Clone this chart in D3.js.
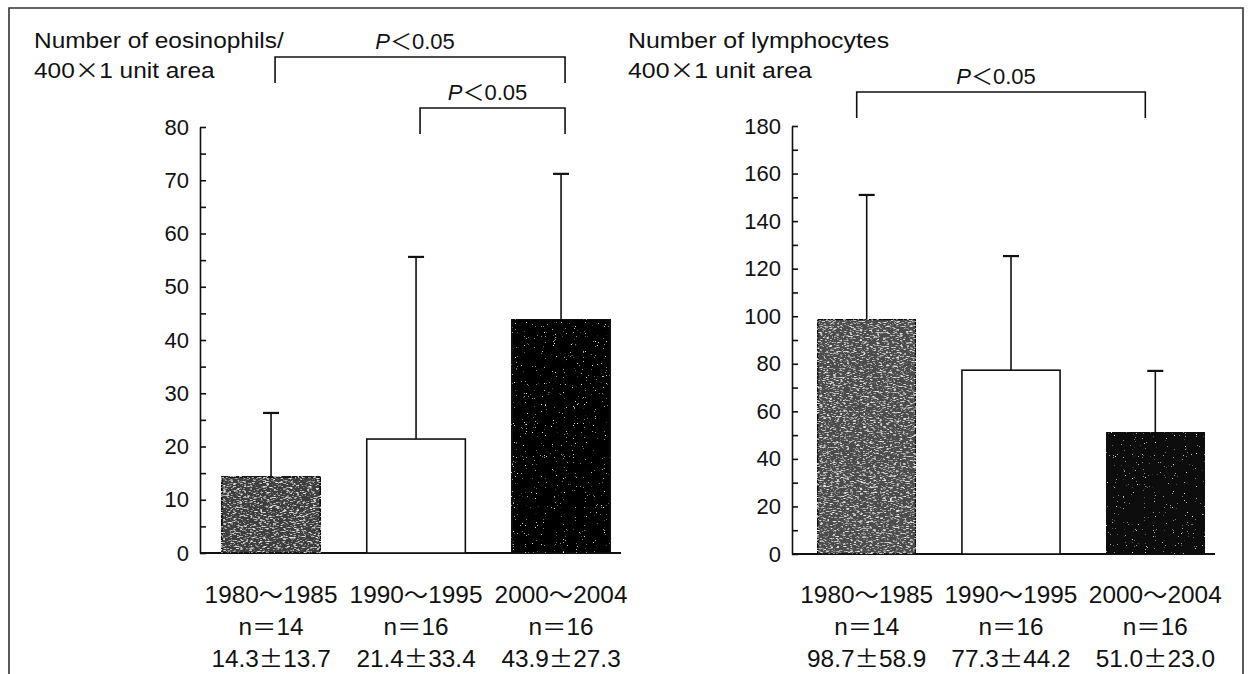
<!DOCTYPE html>
<html>
<head>
<meta charset="utf-8">
<script src="https://cdn.jsdelivr.net/npm/d3@7"></script>
<style>
  body { margin: 0; background: #fff; }
  svg { display: block; }
  text { font-family: "Liberation Sans", Arial, "Noto Sans CJK JP", sans-serif; fill: #111; }
</style>
</head>
<body>
<script>
// ---- data ----
const categories = ["1980〜1985", "1990〜1995", "2000〜2004"];
const nCounts = [14, 16, 16];

// eosinophils / 400x1 unit area
const eosMean = [14.3, 21.4, 43.9];
const eosSD = [13.7, 33.4, 27.3];
const eosWhiskerTop = [26.3, 55.6, 71.2];   // whisker ends as drawn
const eosTicks = [0, 10, 20, 30, 40, 50, 60, 70, 80];

// lymphocytes / 400x1 unit area
const lymMean = [98.7, 77.3, 51.0];
const lymSD = [58.9, 44.2, 23.0];
const lymWhiskerTop = [151, 125.3, 77];
const lymTicks = [0, 20, 40, 60, 80, 100, 120, 140, 160, 180];

// significance brackets (indices into categories)
const eosBrackets = [[0, 2], [1, 2]];
const lymBrackets = [[0, 2]];
const sigLabel = "0.05";

const width = 1248, height = 674;
const cjk = "'Noto Sans CJK JP', sans-serif";

const svg = d3.select("body").append("svg")
	.attr("width", width)
	.attr("height", height);

// ------- speckled fills (scanned halftone look) -------
const defs = svg.append("defs");
function speckFilter(id, freq, slope, offset, seed) {
	const f = defs.append("filter").attr("id", id)
		.attr("x", 0).attr("y", 0).attr("width", 1).attr("height", 1);
	f.append("feTurbulence").attr("type", "fractalNoise")
		.attr("baseFrequency", freq).attr("numOctaves", 2).attr("seed", seed).attr("result", "noise");
	f.append("feColorMatrix").attr("in", "noise").attr("type", "matrix")
		.attr("values", `0 0 0 0 0.8  0 0 0 0 0.8  0 0 0 0 0.8  ${slope} 0 0 0 ${offset}`)
		.attr("result", "specks");
	f.append("feComposite").attr("in", "specks").attr("in2", "SourceGraphic")
		.attr("operator", "in").attr("result", "clipped");
	const m = f.append("feMerge");
	m.append("feMergeNode").attr("in", "SourceGraphic");
	m.append("feMergeNode").attr("in", "clipped");
}
speckFilter("speckGray", "0.3 1.2", 4, -2.1, 4);
speckFilter("speckDark", "0.9", 10, -7.2, 7);

// outer frame of the scanned figure
svg.append("path")
	.attr("d", "M9,680 L9,8 L1243,8 L1243,680")
	.attr("fill", "none")
	.attr("stroke", "#333")
	.attr("stroke-width", 1.6);

// append text where × and ± come from the CJK font (full width glyphs)
function mixedText(sel, str) {
	str.split(/([×±])/).filter(s => s.length).forEach(s => {
		const t = sel.append("tspan").text(s);
		if (s === "×" || s === "±") t.style("font-family", cjk);
	});
	return sel;
}

// the scan is a bit wider than tall, stretch text horizontally
function stretch(sel, factor) {
	const w = sel.node().getComputedTextLength();
	sel.attr("textLength", w * factor).attr("lengthAdjust", "spacingAndGlyphs");
	return sel;
}

function drawPanel(cfg) {
	const g = svg.append("g");

	const x = d3.scaleBand()
		.domain(categories)
		.range([cfg.bandStart, cfg.bandStart + cfg.step * 2.98])
		.paddingInner(0.32)
		.paddingOuter(0.15);

	const y = d3.scaleLinear()
		.domain([0, d3.max(cfg.ticks)])
		.range([cfg.yBottom, cfg.yTop]);

	// title, two lines
	cfg.title.forEach((line, i) => {
		const t = mixedText(g.append("text")
			.attr("x", cfg.titleX)
			.attr("y", 48 + i * 30)
			.style("font-size", "22px"), line);
		stretch(t, cfg.titleStretch);
	});

	// tick labels
	const labelAxis = g.append("g")
		.attr("transform", `translate(${cfg.axisX},0)`)
		.call(d3.axisLeft(y).tickValues(cfg.ticks).tickSize(0).tickPadding(11));
	labelAxis.select(".domain").remove();
	labelAxis.selectAll("text")
		.attr("font-family", null)
		.style("font-size", "22px")
		.attr("fill", "#111");

	// inward tick marks incl. minor ones
	const minor = d3.range(0, d3.max(cfg.ticks) + 0.1, cfg.minorStep);
	const tickAxis = g.append("g")
		.attr("transform", `translate(${cfg.axisX},0)`)
		.call(d3.axisRight(y).tickValues(minor).tickSize(6).tickSizeOuter(0).tickFormat(""));
	tickAxis.selectAll("line, path").attr("stroke", "#111").attr("stroke-width", 1.6);

	// baseline
	g.append("line")
		.attr("x1", cfg.axisX).attr("x2", cfg.axisEnd)
		.attr("y1", y(0)).attr("y2", y(0))
		.attr("stroke", "#111").attr("stroke-width", 1.8);

	// whiskers (drawn first, bars cover the lower part)
	const cx = i => x(categories[i]) + x.bandwidth() / 2;
	const whisk = g.append("g").attr("stroke", "#111").attr("stroke-width", 1.6);
	cfg.top.forEach((v, i) => {
		whisk.append("line")
			.attr("x1", cx(i)).attr("x2", cx(i))
			.attr("y1", y(cfg.mean[i])).attr("y2", y(v));
		whisk.append("line")
			.attr("x1", cx(i) - 8).attr("x2", cx(i) + 8)
			.attr("y1", y(v)).attr("y2", y(v))
			.attr("stroke-width", 2.2);
	});

	// bars
	g.selectAll("rect.bar")
		.data(cfg.mean)
		.join("rect")
		.attr("class", "bar")
		.attr("x", (d, i) => x(categories[i]))
		.attr("y", d => y(d))
		.attr("width", x.bandwidth())
		.attr("height", d => y(0) - y(d))
		.attr("fill", (d, i) => cfg.fills[i])
		.attr("stroke", "#111")
		.attr("stroke-width", 1.6)
		.attr("filter", (d, i) => cfg.filters[i]);

	// category labels, n and mean±SD
	categories.forEach((c, i) => {
		const rows = [c, `n＝${nCounts[i]}`, `${cfg.mean[i].toFixed(1)}±${cfg.sd[i].toFixed(1)}`];
		rows.forEach((r, k) => {
			const t = mixedText(g.append("text")
				.attr("x", cx(i))
				.attr("y", 603 + k * 32)
				.attr("text-anchor", "middle")
				.style("font-size", "23px"), r);
			stretch(t, 1.06);
		});
	});

	// significance brackets
	cfg.brackets.forEach((b, k) => {
		const pos = cfg.bracketPos[k];
		const x1 = cx(b[0]) + cfg.bracketShift, x2 = cx(b[1]) + cfg.bracketShift;
		g.append("path")
			.attr("d", `M${x1},${pos.bottom} V${pos.top} H${x2} V${pos.bottom}`)
			.attr("fill", "none")
			.attr("stroke", "#111")
			.attr("stroke-width", 1.6);
		const t = g.append("text")
			.attr("x", (x1 + x2) / 2 - 5)
			.attr("y", pos.top - 8)
			.attr("text-anchor", "middle")
			.style("font-size", "22px");
		t.append("tspan").style("font-style", "italic").text("P");
		t.append("tspan").style("font-family", cjk).text("＜");
		t.append("tspan").text(sigLabel);
	});
}

drawPanel({
	title: ["Number of eosinophils/", "400×1 unit area"],
	titleX: 34, titleStretch: 1.11,
	axisX: 200, axisEnd: 621,
	yTop: 127, yBottom: 553,
	bandStart: 200, step: 145,
	ticks: eosTicks, minorStep: 5,
	mean: eosMean, sd: eosSD, top: eosWhiskerTop,
	fills: ["#3c3c3c", "#ffffff", "#050505"],
	filters: ["url(#speckGray)", null, "url(#speckDark)"],
	brackets: eosBrackets, bracketShift: 4,
	bracketPos: [{top: 57, bottom: 83}, {top: 108, bottom: 134}]
});

drawPanel({
	title: ["Number of lymphocytes", "400×1 unit area"],
	titleX: 628, titleStretch: 1.13,
	axisX: 792, axisEnd: 1215,
	yTop: 126, yBottom: 554,
	bandStart: 796, step: 144.3,
	ticks: lymTicks, minorStep: 10,
	mean: lymMean, sd: lymSD, top: lymWhiskerTop,
	fills: ["#4c4c4c", "#ffffff", "#0c0c0c"],
	filters: ["url(#speckGray)", null, "url(#speckDark)"],
	brackets: lymBrackets, bracketShift: -10,
	bracketPos: [{top: 92, bottom: 118}]
});
</script>
</body>
</html>
